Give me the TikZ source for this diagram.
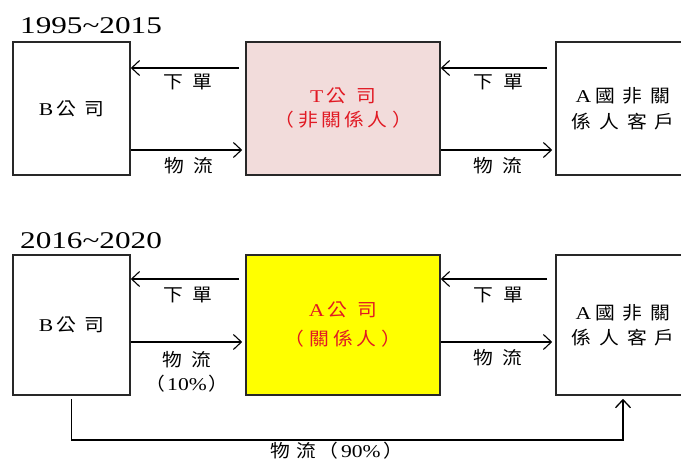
\documentclass[tikz,border=0pt]{standalone}
\usepackage{fontspec}
\setmainfont{Liberation Serif}[FakeStretch=1.2]
\newfontfamily\cjk{Noto Sans CJK TC}[FakeStretch=1.1]
\newfontfamily\ttl{Liberation Serif}[FakeStretch=1.3]
\usetikzlibrary{arrows.meta}
\definecolor{pinkfill}{RGB}{242,220,219}
\definecolor{yel}{RGB}{255,255,0}
\definecolor{redtxt}{RGB}{225,25,35}
\definecolor{boxline}{RGB}{40,40,40}
\newcommand\hs[1]{\hspace{#1pt}}
\begin{document}
\begin{tikzpicture}[x=1pt,y=-1pt,
  box/.style={draw=boxline,line width=1.6pt,inner sep=0pt,align=center,font=\fontsize{18}{22}\selectfont},
  arr/.style={-{Straight Barb[length=8pt,width=15pt]},line width=1.1pt},
  lbl/.style={inner sep=0pt,align=center,font=\fontsize{18}{22}\selectfont},
  ttlnode/.style={anchor=base west,inner sep=0pt,font=\ttl\fontsize{24}{24}\selectfont}
]
\useasboundingbox (0,0) rectangle (681,463);
\fill[white] (0,0) rectangle (681,463);
\clip (0,0) rectangle (681,463);

% titles
\node[ttlnode] (t1) at (20,33) {1995\textasciitilde 2015};
\node[ttlnode] (t2) at (20,248) {2016\textasciitilde 2020};

% top row boxes
\node[box, minimum width=117pt, minimum height=133pt] (B1) at (71.5,108.5) {B\hs{3}{\cjk 公\hs{8}司}};
\node[box, fill=pinkfill, text=redtxt, minimum width=194pt, minimum height=133pt] (T) at (343,108.5)
  {T\hs{3}{\cjk 公\hs{10}司}\\[2pt]{\cjk （\hs{5}非\hs{3}關\hs{3}係\hs{3}人\hs{5}）}};
\node[box, minimum width=134pt, minimum height=133pt] (C1) at (623,108.5)
  {A\hs{4}{\cjk 國\hs{8}非\hs{8}關}\\[4pt]{\cjk 係\hs{8}人\hs{8}客\hs{8}戶}};

% bottom row boxes
\node[box, minimum width=117pt, minimum height=140pt] (B2) at (71.5,325) {B\hs{3}{\cjk 公\hs{8}司}};
\node[box, fill=yel, text=redtxt, minimum width=194pt, minimum height=140pt] (A) at (343,325)
  {A\hs{3}{\cjk 公\hs{10}司}\\[7pt]{\cjk （\hs{5}關\hs{4}係\hs{4}人\hs{5}）}};
\node[box, minimum width=134pt, minimum height=140pt] (C2) at (623,325)
  {A\hs{4}{\cjk 國\hs{8}非\hs{8}關}\\[3pt]{\cjk 係\hs{8}人\hs{8}客\hs{8}戶}};

% levels
\coordinate (ya) at (0,68);
\coordinate (yb) at (0,150);
\coordinate (yc) at (0,279);
\coordinate (yd) at (0,342);
\coordinate (ye) at (0,440);

% top arrows
\draw[arr, shorten <=8pt] (C1.west |- ya) -- (T.east |- ya);
\draw[arr, shorten <=6pt] (T.west |- ya) -- (B1.east |- ya);
\draw[arr, shorten >=3pt] (B1.east |- yb) -- (T.west |- yb);
\draw[arr, shorten >=3pt] (T.east |- yb) -- (C1.west |- yb);

% bottom arrows
\draw[arr, shorten <=8pt] (C2.west |- yc) -- (A.east |- yc);
\draw[arr, shorten <=6pt] (A.west |- yc) -- (B2.east |- yc);
\draw[arr, shorten >=3pt] (B2.east |- yd) -- (A.west |- yd);
\draw[arr, shorten >=3pt] (A.east |- yd) -- (C2.west |- yd);
\draw[arr, line width=1.3pt, shorten <=3pt, shorten >=3pt] (B2.south) -- (B2.south |- ye) -| (C2.south);

% labels
\node[lbl] (l1) at (188,82) {\cjk 下\hs{10}單};
\node[lbl] (l2) at (189,166) {\cjk 物\hs{9}流};
\node[lbl] (l3) at (498,82) {\cjk 下\hs{10}單};
\node[lbl] (l4) at (498,166) {\cjk 物\hs{9}流};
\node[lbl] (l5) at (188,295) {\cjk 下\hs{10}單};
\node[lbl] (l6) at (187,372) {{\cjk 物\hs{9}流}\\[2pt]{\cjk （}\hs{2}10\%\hs{2}{\cjk ）}};
\node[lbl] (l7) at (498,295) {\cjk 下\hs{10}單};
\node[lbl] (l8) at (498,358) {\cjk 物\hs{9}流};
\node[lbl] (l9) at (337,451) {{\cjk 物\hs{6}流\hs{2}（}\hs{3}90\%\hs{3}{\cjk ）}};
\end{tikzpicture}
\end{document}
